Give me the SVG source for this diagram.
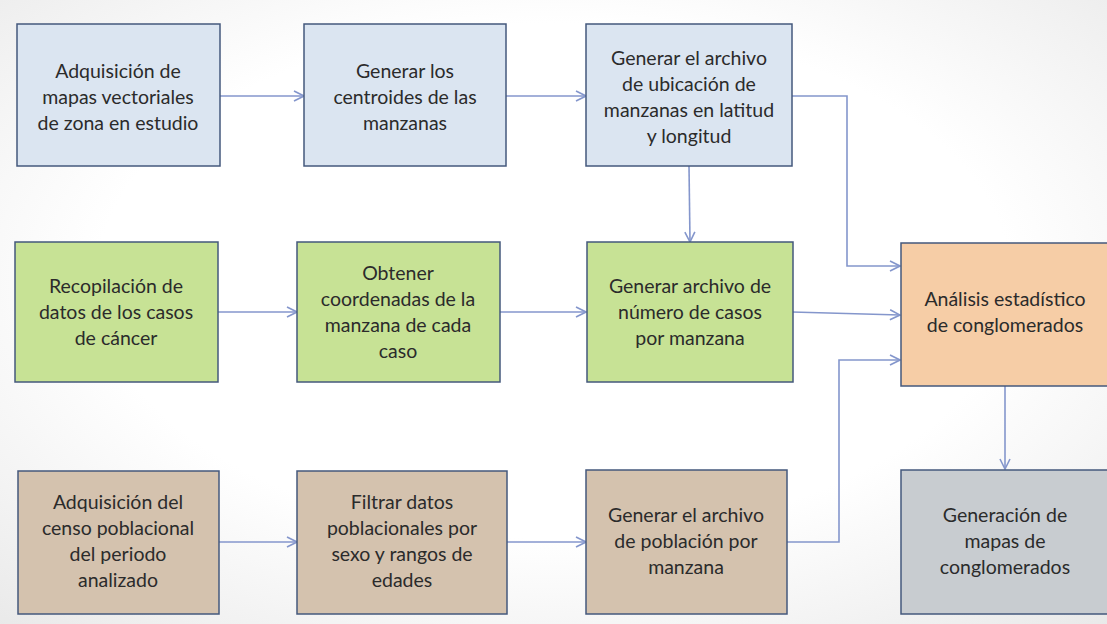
<svg xmlns="http://www.w3.org/2000/svg" width="1107" height="624" viewBox="0 0 1107 624">
<style>
.box{stroke:#44587c;stroke-width:1.5}
.b{fill:#dbe5f1}.g{fill:#c7e295}.t{fill:#d4c2ae}.o{fill:#f6cda6}.s{fill:#c8ccd0}
text{font-family:Lato,"Open Sans","Liberation Sans",sans-serif;font-size:19.5px;fill:#2b2b2b;text-anchor:middle}
.c{fill:none;stroke:#8496cc;stroke-width:1.6}
</style>
<defs>
<radialGradient id="bg" cx="0.5" cy="0.45" r="0.75">
<stop offset="0.55" stop-color="#ffffff"/>
<stop offset="1" stop-color="#e9e9e9"/>
</radialGradient>
<marker id="ah" viewBox="0 0 12 12" refX="11" refY="6" markerWidth="12" markerHeight="12" markerUnits="userSpaceOnUse" orient="auto">
<path d="M1 1 L11 6 L1 11" fill="none" stroke="#8496cc" stroke-width="1.6"/>
</marker>
</defs>
<rect width="1107" height="624" fill="url(#bg)"/>
<g id="connectors">
<path class="c" d="M220 96 H304" marker-end="url(#ah)"/>
<path class="c" d="M506 96 H586" marker-end="url(#ah)"/>
<path class="c" d="M792 96 H847 V266 H900" marker-end="url(#ah)"/>
<path class="c" d="M689 166 L690 242" marker-end="url(#ah)"/>
<path class="c" d="M218 312 H297" marker-end="url(#ah)"/>
<path class="c" d="M500 312 H586" marker-end="url(#ah)"/>
<path class="c" d="M792 312 L900 315" marker-end="url(#ah)"/>
<path class="c" d="M219 542 H297" marker-end="url(#ah)"/>
<path class="c" d="M507 542 H586" marker-end="url(#ah)"/>
<path class="c" d="M787 542 H839 V360 H900" marker-end="url(#ah)"/>
<path class="c" d="M1005 386 V469" marker-end="url(#ah)"/>
</g>
<g id="n1"><rect class="box b" x="17" y="24" width="203" height="142"/>
<text x="118" y="78">Adquisición de</text><text x="118" y="104">mapas vectoriales</text><text x="118" y="130">de zona en estudio</text></g>
<g id="n2"><rect class="box b" x="304" y="24" width="202" height="142"/>
<text x="405" y="78">Generar los</text><text x="405" y="104">centroides de las</text><text x="405" y="130">manzanas</text></g>
<g id="n3"><rect class="box b" x="586" y="24" width="206" height="142"/>
<text x="689" y="65">Generar el archivo</text><text x="689" y="91">de ubicación de</text><text x="689" y="117">manzanas en latitud</text><text x="689" y="143">y longitud</text></g>
<g id="n4"><rect class="box g" x="15" y="242" width="203" height="140"/>
<text x="116" y="293">Recopilación de</text><text x="116" y="319">datos de los casos</text><text x="116" y="345">de cáncer</text></g>
<g id="n5"><rect class="box g" x="297" y="242" width="203" height="140"/>
<text x="398" y="280">Obtener</text><text x="398" y="306">coordenadas de la</text><text x="398" y="332">manzana de cada</text><text x="398" y="358">caso</text></g>
<g id="n6"><rect class="box g" x="587" y="242" width="206" height="140"/>
<text x="690" y="293">Generar archivo de</text><text x="690" y="319">número de casos</text><text x="690" y="345">por manzana</text></g>
<g id="n7"><rect class="box o" x="901" y="243" width="210" height="143"/>
<text x="1005" y="306">Análisis estadístico</text><text x="1005" y="332">de conglomerados</text></g>
<g id="n8"><rect class="box t" x="18" y="471" width="201" height="143"/>
<text x="118" y="509">Adquisición del</text><text x="118" y="535">censo poblacional</text><text x="118" y="561">del periodo</text><text x="118" y="587">analizado</text></g>
<g id="n9"><rect class="box t" x="297" y="471" width="210" height="143"/>
<text x="402" y="509">Filtrar datos</text><text x="402" y="535">poblacionales por</text><text x="402" y="561">sexo y rangos de</text><text x="402" y="587">edades</text></g>
<g id="n10"><rect class="box t" x="586" y="470" width="201" height="144"/>
<text x="686" y="522">Generar el archivo</text><text x="686" y="548">de población por</text><text x="686" y="574">manzana</text></g>
<g id="n11"><rect class="box s" x="901" y="470" width="210" height="144"/>
<text x="1005" y="522">Generación de</text><text x="1005" y="548">mapas de</text><text x="1005" y="574">conglomerados</text></g>
</svg>
